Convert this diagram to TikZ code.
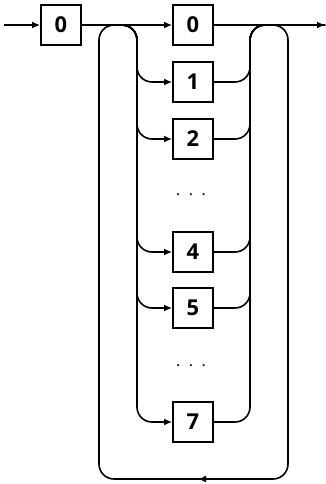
\documentclass[tikz,border=0pt]{standalone}
\usepackage{fontspec}
\setmainfont{Open Sans}
\usetikzlibrary{arrows.meta}
\begin{document}
\begin{tikzpicture}[x=1bp,y=-1bp,
  box/.style={draw,line width=1.8bp,minimum width=40bp,minimum height=40bp,inner sep=0pt,font=\fontsize{22}{24}\selectfont\bfseries},
  rail/.style={line width=1.6bp,rounded corners=15bp},
  arr/.style={-{Latex[length=8bp,width=7bp]}},
  dotrow/.style={font=\fontsize{16}{18}\selectfont,inner sep=0pt}]
\useasboundingbox (0,0) rectangle (325,484);
% nodes
\node[box] (a0) at (61,25) {0};
\node[box] (b0) at (193,25) {0};
\node[box] (b1) at (193,82) {1};
\node[box] (b2) at (193,139) {2};
\node[dotrow] (d1) at (191,195) {.\hspace{8.5bp}.\hspace{8.5bp}.};
\node[box] (b4) at (193,252) {4};
\node[box] (b5) at (193,308) {5};
\node[dotrow] (d2) at (191,366) {.\hspace{8.5bp}.\hspace{8.5bp}.};
\node[box] (b7) at (193,422) {7};
% junction coordinates
\coordinate (start) at (4,25);
\coordinate (end) at (325,25);
\coordinate (jL1) at (99,25);
\coordinate (jL2) at (137,25);
\coordinate (jR1) at (250,25);
\coordinate (jR2) at (288,25);
\coordinate (bl) at (99,479);
\coordinate (br) at (288,479);
\coordinate (arrS) at (265,479);
\coordinate (arrE) at (198,479);
% main line
\draw[rail,arr] (start) -- (a0.west);
\draw[rail,arr] (a0.east) -- (b0.west);
\draw[rail,arr] (b0.east) -- (end);
% branches
\foreach \b in {b1,b2,b4,b5,b7}{
  \draw[rail,arr] (a0.east) -- (jL2) -- (jL2 |- \b.west) -- (\b.west);
  \draw[rail] (\b.east) -- (jR1 |- \b.east) -- (jR1) -- (end);
}
% outer loop
\draw[rail] (b0.east) -- (jR2) -- (br) -- (bl) -- (jL1) -- (jL2);
\draw[rail,arr] (arrS) -- (arrE);
\end{tikzpicture}
\end{document}
